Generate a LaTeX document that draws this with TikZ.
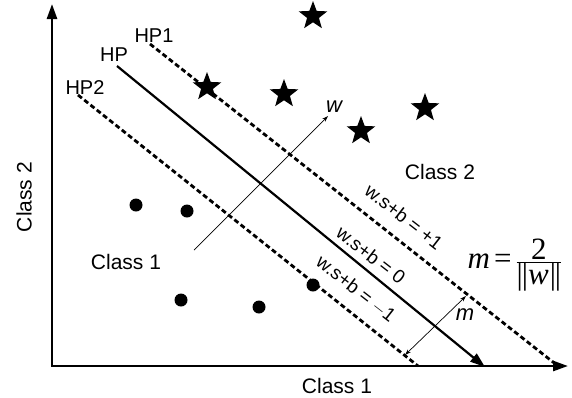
\documentclass[tikz,border=0pt]{standalone}
\usepackage{fontspec}
\setmainfont{Liberation Sans}
\newfontfamily\serifm{Liberation Serif}
\usetikzlibrary{shapes.geometric,arrows.meta}
\begin{document}
\begin{tikzpicture}[x=1pt,y=-1pt,
  lbl/.style={font=\fontsize{20}{24}\selectfont, inner sep=0pt},
  clbl/.style={font=\fontsize{21}{24}\selectfont, inner sep=0pt},
  eqlbl/.style={font=\fontsize{19}{22}\selectfont, inner sep=0pt, rotate=-38},
  mathlbl/.style={font=\fontsize{22}{26}\selectfont\itshape, inner sep=0pt},
  starpt/.style={star, star points=5, star point ratio=2.4, fill=black, minimum size=30pt, inner sep=0pt},
  dotpt/.style={circle, fill=black, minimum size=13pt, inner sep=0pt},
  bigtip/.style={-{Triangle[length=15pt,width=10pt]}},
  axisline/.style={line width=2.6pt},
  hyper/.style={line width=2.2pt},
  marginline/.style={line width=2.8pt, dash pattern=on 5pt off 3pt},
  thinline/.style={line width=0.7pt}
]
\useasboundingbox (0,0) rectangle (572,397);
% axes
\coordinate (O) at (52,366);
\coordinate (Ytip) at (52,4);
\coordinate (Xtip) at (568,366);
\draw[axisline, {Triangle[length=15pt,width=10pt]}-{Triangle[length=15pt,width=10pt]}] (Ytip) -- (O) -- (Xtip);
% hyperplanes
\coordinate (HPs) at (117,66);
\coordinate (HPe) at (485,367);
\coordinate (HPAs) at (150,44);
\coordinate (HPAe) at (558,366);
\coordinate (HPBs) at (78,95);
\coordinate (HPBe) at (418,366);
\draw[hyper, bigtip] (HPs) -- (HPe);
\draw[marginline] (HPAs) -- (HPAe);
\draw[marginline] (HPBs) -- (HPBe);
% labels of hyperplanes
\node[lbl] (lHP1) at (154,36) {HP1};
\node[lbl] (lHP) at (114,55) {HP};
\node[lbl] (lHP2) at (85,88) {HP2};
% w vector
\coordinate (ws) at (194,250);
\coordinate (we) at (328,116);
\draw[thinline, -{Stealth[length=6pt,width=4pt]}] (ws) -- (we);
\node[mathlbl] (wl) at (334,107) {w};
% margin arrow
\coordinate (ma) at (405,355);
\coordinate (mb) at (466,296);
\draw[thinline, {Stealth[length=6pt,width=4pt]}-{Stealth[length=6pt,width=4pt]}] (ma) -- (mb);
\node[mathlbl] (ml) at (465,315) {m};
% stars
\node[starpt] (s1) at (313,16) {};
\node[starpt] (s2) at (207,87) {};
\node[starpt] (s3) at (284,94) {};
\node[starpt] (s4) at (425,108) {};
\node[starpt] (s5) at (361,131) {};
% dots
\node[dotpt] (d1) at (136,205) {};
\node[dotpt] (d2) at (187,211) {};
\node[dotpt] (d3) at (181,300) {};
\node[dotpt] (d4) at (259,307) {};
\node[dotpt] (d5) at (313,285) {};
% class labels
\node[clbl] (c2) at (440,172) {Class 2};
\node[clbl] (c1) at (126,262) {Class 1};
\node[clbl] (xl) at (337,386) {Class 1};
\node[clbl, rotate=90] (yl) at (24,197) {Class 2};
% equations
\node[eqlbl] (e1) at (404,217) {w.s+b = +1};
\node[eqlbl] (e0) at (371,255) {w.s+b = 0};
\node[eqlbl] (em) at (356,289) {w.s+b = $-$1};
\node[inner sep=0pt, font=\fontsize{31}{36}\serifm] (mf) at (515,265)
  {\itshape m\upshape\kern4pt=\kern4pt$\frac{\hbox{\serifm 2}}{\hbox{\serifm |\kern-1pt|\itshape w\upshape\kern1pt|\kern-1pt|}}$};
\end{tikzpicture}
\end{document}
